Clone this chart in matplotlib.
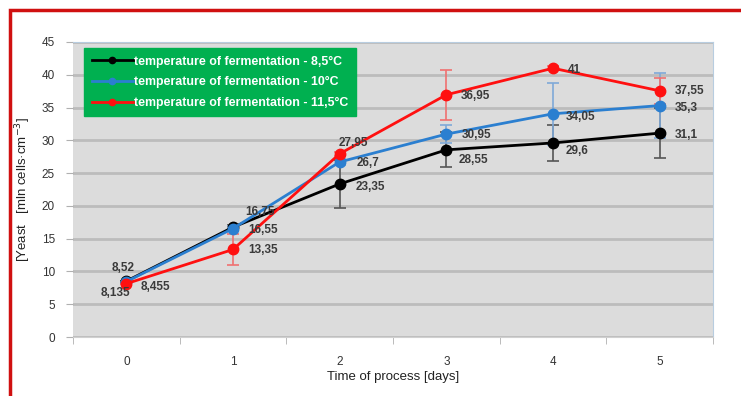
import matplotlib.pyplot as plt
from matplotlib.patches import Rectangle
from matplotlib.lines import Line2D

# data
days = [0, 1, 2, 3, 4, 5]
t85 = [8.52, 16.75, 23.35, 28.55, 29.6, 31.1]
t10 = [8.455, 16.55, 26.7, 30.95, 34.05, 35.3]
t115 = [8.135, 13.35, 27.95, 36.95, 41, 37.55]
err85 = [0, 0.3, 3.6, 2.65, 2.7, 3.8]
err10 = [0, 0.4, 0.5, 1.4, 4.7, 5.0]
err115 = [0, 2.35, 0.3, 3.8, 0.3, 2.0]
names = ['temperature of fermentation - 8,5°C',
         'temperature of fermentation - 10°C',
         'temperature of fermentation - 11,5°C']
lbl85 = ['8,52', '16,75', '23,35', '28,55', '29,6', '31,1']
lbl10 = ['8,455', '16,55', '26,7', '30,95', '34,05', '35,3']
lbl115 = ['8,135', '13,35', '27,95', '36,95', '41', '37,55']

plt.rcParams['font.family'] = ['Liberation Sans', 'DejaVu Sans']

fig = plt.figure(figsize=(7.41, 3.96), dpi=100)
ax = fig.add_axes([73/741, 59/396, 640/741, 295/396])
ax.set_facecolor('#dcdcdc')

# red frame round the chart
fig.patches.append(Rectangle((10/741, -0.1), 1.2, (386/396) + 0.1,
                             transform=fig.transFigure, fill=False,
                             edgecolor='#d01010', linewidth=2.5, zorder=0))

series = [(t85, err85, '#000000', '#555555', lbl85),
          (t10, err10, '#2b7fd0', '#7fa9d8', lbl10),
          (t115, err115, '#ff1010', '#f07070', lbl115)]

for (vals, err, col, ecol, lbl), name in zip(series, names):
    ax.errorbar(days, vals, yerr=err, color=col, ecolor=ecol, elinewidth=1.2,
                capsize=4, capthick=1.2, lw=2, marker='o', ms=7.5,
                zorder=3)

# data labels (offsets in pixels)
offs85 = [(-3, 13, 'center'), (12, 15, 'left'), (16, -3, 'left'),
          (12, -10, 'left'), (13, -8, 'left'), (15, -2, 'left')]
offs10 = [(14, -5, 'left'), (15, -1, 'left'), (17, -1, 'left'),
          (15, -1, 'left'), (13, -3, 'left'), (15, -2, 'left')]
offs115 = [(-11, -9, 'center'), (15, -1, 'left'), (-1, 11, 'left'),
           (14, -1, 'left'), (15, -2, 'left'), (15, 0, 'left')]
for (vals, err, col, ecol, lbl), offs in zip(series, [offs85, offs10, offs115]):
    for x, y, s, (dx, dy, ha) in zip(days, vals, lbl, offs):
        ax.annotate(s, (x, y), xytext=(dx, dy), textcoords='offset pixels',
                    ha=ha, va='center', fontsize=8.5, fontweight='bold',
                    color='#3a3a3a', zorder=5)

ax.set_xlim(-0.5, 5.5)
ax.set_ylim(0, 45)
ax.set_yticks(range(0, 46, 5))
ax.set_xticks(days)
ax.set_xticks([i - 0.5 for i in range(7)], minor=True)
ax.tick_params(axis='x', which='major', length=0, pad=14)
ax.tick_params(axis='x', which='minor', length=5, color='#b0b0b0')
ax.tick_params(axis='y', length=5, color='#b0b0b0', pad=8)
ax.tick_params(labelsize=8.5, labelcolor='#333333')
ax.grid(axis='y', color='#bcbcbc', lw=2, zorder=0)
ax.set_axisbelow(True)
for side in ['top', 'right']:
    ax.spines[side].set_color('#b8cde0')
ax.spines['left'].set_visible(False)
ax.spines['bottom'].set_color('#d0d0d0')

ax.set_xlabel('Time of process [days]', fontsize=9.5, color='#222222', labelpad=2)
ax.set_ylabel('[Yeast   [mln cells·cm$^{-3}$]', fontsize=9.5, color='#222222',
              labelpad=6)

handles = [Line2D([], [], color=c, lw=2, marker='o', ms=4.5)
           for c in ['#000000', '#2b7fd0', '#ff1010']]
leg = ax.legend(handles, names, loc='upper left', bbox_to_anchor=(0.008, 1.0),
                frameon=True, fancybox=False, facecolor='#00b050',
                edgecolor='#00b050', framealpha=1, fontsize=8.9,
                handlelength=3.3, handletextpad=0.15, borderpad=0.6,
                labelspacing=0.7)
for t in leg.get_texts():
    t.set_color('white')
    t.set_fontweight('bold')

fig.savefig('out.png', dpi=100)
